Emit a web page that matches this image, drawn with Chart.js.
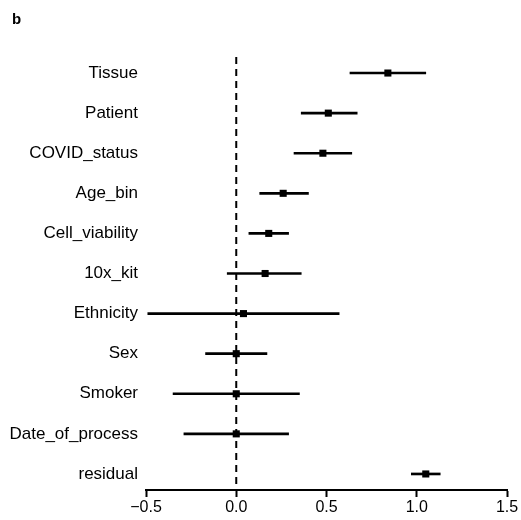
<!DOCTYPE html>
<html>
<head>
<meta charset="utf-8">
<script src="https://cdn.jsdelivr.net/npm/chart.js@4.4.1/dist/chart.umd.min.js"></script>
<style>
  body { margin: 0; background: #fff; }
  #wrap { width: 521px; height: 520px; position: relative; }
</style>
</head>
<body>
<div id="wrap"><canvas id="forestChart"></canvas></div>
<script>
const terms = ['Tissue', 'Patient', 'COVID_status', 'Age_bin', 'Cell_viability', '10x_kit',
               'Ethnicity', 'Sex', 'Smoker', 'Date_of_process', 'residual'];
const estimate = [0.84, 0.51, 0.48, 0.26, 0.18, 0.16, 0.04, 0.0, 0.0, 0.0, 1.05];
const lower    = [0.63, 0.36, 0.32, 0.13, 0.07, -0.05, -0.49, -0.17, -0.35, -0.29, 0.97];
const upper    = [1.05, 0.67, 0.64, 0.40, 0.29, 0.36, 0.57, 0.17, 0.35, 0.29, 1.13];
const xTicks   = [-0.5, 0.0, 0.5, 1.0, 1.5];

const FONT = "'Liberation Sans', Arial, sans-serif";

// dashed reference line at zero + panel letter
const extras = {
    id: 'extras',
    beforeDatasetsDraw(chart) {
        const ctx = chart.ctx, area = chart.chartArea;
        const x0 = chart.scales.x.getPixelForValue(0);
        ctx.save();
        ctx.strokeStyle = '#000';
        ctx.lineWidth = 2;
        ctx.setLineDash([7, 5]);
        ctx.beginPath();
        ctx.moveTo(x0, area.top);
        ctx.lineTo(x0, area.bottom);
        ctx.stroke();
        ctx.restore();
    },
    afterDraw(chart) {
        const ctx = chart.ctx;
        ctx.save();
        ctx.fillStyle = '#000';
        ctx.font = 'bold 15px ' + FONT;
        ctx.textBaseline = 'alphabetic';
        ctx.fillText('b', 12, 24);
        ctx.restore();
    }
};

new Chart(document.getElementById('forestChart'), {
    type: 'bar',
    data: {
        datasets: [{
            type: 'scatter',
            data: terms.map((t, i) => ({ x: estimate[i], y: i })),
            pointStyle: 'rect',
            pointRadius: 5,
            pointHoverRadius: 5,
            backgroundColor: '#000',
            borderColor: '#000',
            borderWidth: 0,
            order: 0
        }, {
            data: terms.map((t, i) => ({ x: [lower[i], upper[i]], y: i })),
            backgroundColor: '#000',
            barThickness: 2,
            order: 1
        }]
    },
    options: {
        indexAxis: 'y',
        responsive: true,
        maintainAspectRatio: false,
        animation: false,
        layout: { padding: { top: 57, right: 14, left: 0, bottom: 0 } },
        plugins: {
            legend: { display: false },
            tooltip: { enabled: false }
        },
        scales: {
            x: {
                type: 'linear',
                offset: false,
                min: -0.5,
                max: 1.5,
                afterBuildTicks: s => { s.ticks = xTicks.map(v => ({ value: v })); },
                afterFit: s => { s.height = 30; },
                border: { display: true, color: '#000', width: 2 },
                grid: { drawOnChartArea: false, drawTicks: true, tickLength: 7, tickWidth: 2, tickColor: '#000' },
                ticks: {
                    color: '#000',
                    padding: 1,
                    maxRotation: 0,
                    font: { family: FONT, size: 16 },
                    callback: v => v < 0 ? '\u2212' + Math.abs(v).toFixed(1) : v.toFixed(1)
                }
            },
            y: {
                type: 'linear',
                offset: false,
                reverse: true,
                min: -0.4,
                max: 10.4,
                afterBuildTicks: s => { s.ticks = terms.map((t, i) => ({ value: i })); },
                afterFit: s => { s.width = 146; },
                border: { display: false },
                grid: { display: false },
                ticks: {
                    color: '#000',
                    padding: 0,
                    font: { family: FONT, size: 17 },
                    callback: v => terms[v]
                }
            }
        }
    },
    plugins: [extras]
});
</script>
</body>
</html>
